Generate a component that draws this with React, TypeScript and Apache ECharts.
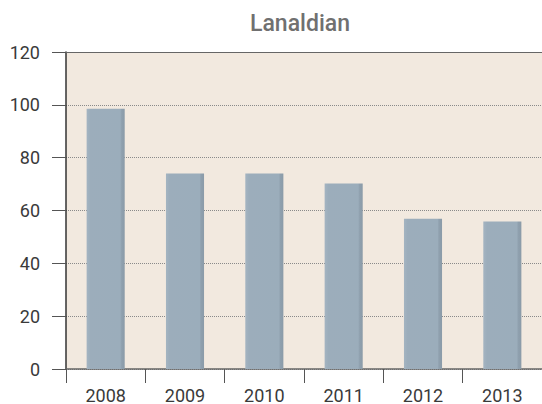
import React, { useEffect, useRef } from "react";
import * as echarts from "echarts";

const categories = ["2008", "2009", "2010", "2011", "2012", "2013"];
const values = [98.5, 74, 74, 70.2, 56.9, 55.8];
const titleText = "Lanaldian";

export default function App() {
  const ref = useRef<HTMLDivElement>(null);
  useEffect(() => {
    const chart = echarts.init(ref.current!, null, { renderer: "svg" });
    chart.setOption({
      animation: false,
      title: {
        text: titleText,
        left: 295,
        top: 7,
        textAlign: "center",
        textStyle: { fontFamily: "Roboto", fontSize: 23, fontWeight: 500, color: "#707070" },
      },
      grid: { left: 66, right: 0, top: 52, bottom: 34, show: true, backgroundColor: "#f2e9df", borderWidth: 0 },
      xAxis: [
        {
          type: "category",
          data: categories,
          axisLine: { lineStyle: { color: "#666", width: 1.5 } },
          axisTick: { show: true, length: 14, inside: false, alignWithLabel: false, lineStyle: { color: "#555" } },
          axisLabel: { fontFamily: "Roboto", fontSize: 18, color: "#3a3a3a", margin: 17 },
        },
        {
          type: "category",
          data: categories,
          position: "top",
          axisLine: { lineStyle: { color: "#666", width: 1 } },
          axisTick: { show: false },
          axisLabel: { show: false },
        },
      ],
      yAxis: {
        type: "value",
        min: 0,
        max: 120,
        interval: 20,
        axisLine: { show: true, lineStyle: { color: "#333", width: 1.5 } },
        axisTick: { show: true, length: 14, lineStyle: { color: "#555" } },
        axisLabel: { fontFamily: "Roboto", fontSize: 18, color: "#3a3a3a", margin: 26 },
        splitLine: { show: true, lineStyle: { type: [1, 1], color: "#8a8a8a", width: 1 } },
      },
      series: [
        {
          type: "bar",
          data: values,
          barWidth: "48%",
          itemStyle: {
            color: new echarts.graphic.LinearGradient(0, 0, 1, 0, [
              { offset: 0, color: "#a4b4c1" },
              { offset: 0.1, color: "#9cadbb" },
              { offset: 0.88, color: "#9badbb" },
              { offset: 0.92, color: "#8fa0ae" },
              { offset: 1, color: "#8b9ba8" },
            ]),
          },
        },
      ],
    });
    return () => chart.dispose();
  }, []);
  return <div ref={ref} style={{ width: 542, height: 404, position: "absolute", left: 0, top: 0 }} />;
}
